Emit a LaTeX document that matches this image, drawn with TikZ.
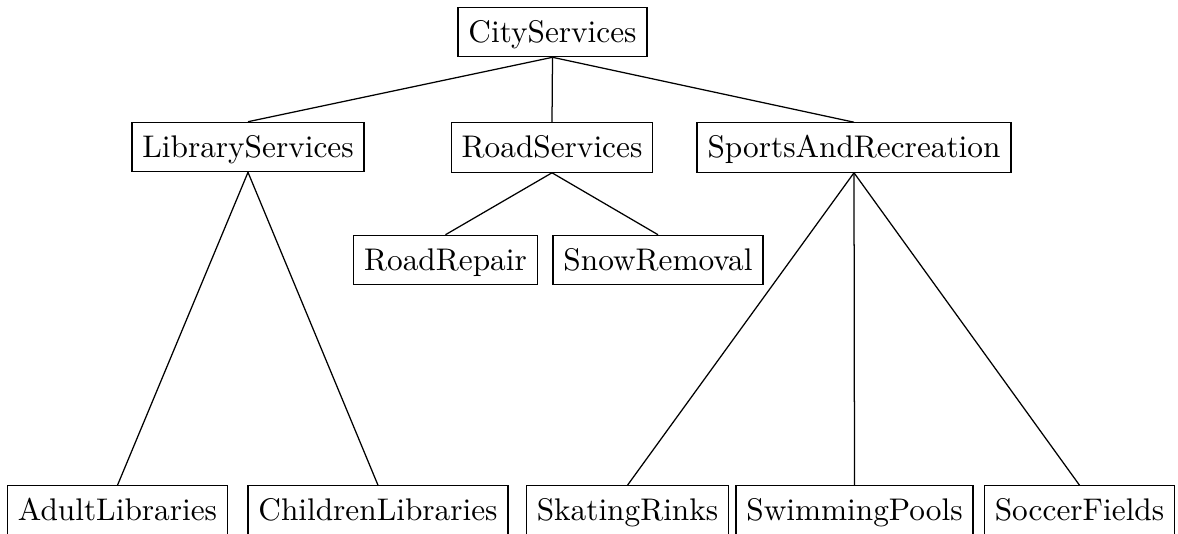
\documentclass[tikz,border=0pt]{standalone}
\begin{document}
\begin{tikzpicture}[x=0.3195pt,y=-0.3195pt,
  box/.style={draw,line width=0.4pt,inner sep=3.33pt,text height=7.9pt,text depth=1.2pt},
  link/.style={line width=0.4pt}]
\useasboundingbox (0,0) rectangle (1178,533);
\clip (0,0) rectangle (1178,533);
% top level
\node[box] (city) at (552.5,32) {CityServices};
% second level
\node[box] (lib) at (248,147) {LibraryServices};
\node[box] (road) at (552,147.5) {RoadServices};
\node[box] (sports) at (854,147.5) {SportsAndRecreation};
% road services children
\node[box] (repair) at (445.5,260) {RoadRepair};
\node[box] (snow) at (658,260) {SnowRemoval};
% bottom level (runs past the lower edge)
\node[box] (adult) at (117.5,510.5) {AdultLibraries};
\node[box] (children) at (378,510.5) {ChildrenLibraries};
\node[box] (skating) at (627.5,510.5) {SkatingRinks};
\node[box] (swimming) at (854.5,510.5) {SwimmingPools};
\node[box] (soccer) at (1079.5,510.5) {SoccerFields};
% connectors
\draw[link] (city.south) -- (lib.north);
\draw[link] (city.south) -- (road.north);
\draw[link] (city.south) -- (sports.north);
\draw[link] (road.south) -- (repair.north);
\draw[link] (road.south) -- (snow.north);
\draw[link] (lib.south) -- (adult.north);
\draw[link] (lib.south) -- (children.north);
\draw[link] (sports.south) -- (skating.north);
\draw[link] (sports.south) -- (swimming.north);
\draw[link] (sports.south) -- (soccer.north);
\end{tikzpicture}
\end{document}
